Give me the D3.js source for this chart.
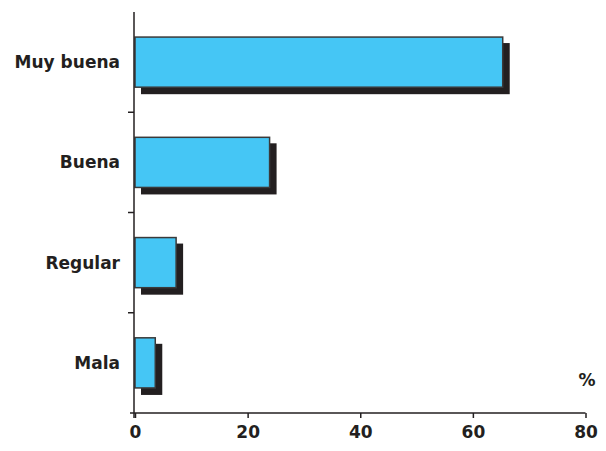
<!DOCTYPE html>
<html>
<head>
<meta charset="utf-8">
<script src="https://cdn.jsdelivr.net/npm/d3@7"></script>
<style>
  html, body { margin: 0; padding: 0; background: #fff; }
  svg { display: block; }
</style>
</head>
<body>
<div id="chart"></div>
<script>
// Survey ratings, share of respondents (%)
const categories = ["Muy buena", "Buena", "Regular", "Mala"];
const values = [65.3, 23.9, 7.3, 3.6];
const xTicks = [0, 20, 40, 60, 80];
const unitLabel = "%";

const W = 606, H = 451;
const margin = { top: 12, right: 20, bottom: 38, left: 135 };

const svg = d3.select("#chart").append("svg")
  .attr("width", W).attr("height", H);

const x = d3.scaleLinear().domain([0, 80]).range([margin.left, 585.5]);
const y = d3.scaleBand().domain(categories).range([margin.top, 413]).paddingInner(0.5).paddingOuter(0.25);
const yEdges = d3.scaleBand().domain(categories).range([margin.top, 413]);

const ink = "#231f20";
const shadowOff = 6;
const font = "DejaVu Sans, Verdana, sans-serif";

// drop shadows behind the bars
svg.append("g").selectAll("rect").data(categories).join("rect")
  .attr("x", x(0) + shadowOff)
  .attr("y", d => y(d) + shadowOff)
  .attr("width", (d, i) => x(values[i]) - x(0) + 1)
  .attr("height", y.bandwidth() + 1)
  .attr("fill", ink);

// bars
svg.append("g").selectAll("rect").data(categories).join("rect")
  .attr("x", x(0))
  .attr("y", d => y(d))
  .attr("width", (d, i) => x(values[i]) - x(0))
  .attr("height", y.bandwidth())
  .attr("fill", "#45c6f5")
  .attr("stroke", "#3a3a3a")
  .attr("stroke-width", 1.5);

// y axis line with separator ticks between categories
const yAxis = svg.append("g");
yAxis.append("line")
  .attr("x1", x(0) - 1).attr("x2", x(0) - 1)
  .attr("y1", margin.top).attr("y2", 418)
  .attr("stroke", ink).attr("stroke-width", 1.5);
yAxis.selectAll("line.sep").data(categories.slice(1)).join("line")
  .attr("class", "sep")
  .attr("x1", x(0) - 7).attr("x2", x(0) - 1)
  .attr("y1", d => yEdges(d)).attr("y2", d => yEdges(d))
  .attr("stroke", ink).attr("stroke-width", 1.5);

// category labels
svg.append("g").selectAll("text").data(categories).join("text")
  .attr("x", 120)
  .attr("y", d => y(d) + y.bandwidth() / 2)
  .attr("dy", "0.35em")
  .attr("text-anchor", "end")
  .attr("font-family", font)
  .attr("font-weight", "bold")
  .attr("font-size", 17)
  .attr("fill", ink)
  .text(d => d);

// x axis
const xAxis = svg.append("g")
  .attr("transform", "translate(0,413)")
  .call(d3.axisBottom(x).tickValues(xTicks).tickSize(5).tickPadding(8).tickSizeOuter(0));
xAxis.select(".domain").attr("stroke", ink).attr("stroke-width", 1.5)
  .attr("d", `M${x(0) - 5},0H${x(80)}`);
xAxis.selectAll(".tick line").attr("stroke", ink).attr("stroke-width", 1.5);
xAxis.selectAll(".tick text")
  .attr("font-family", font)
  .attr("font-weight", "bold")
  .attr("font-size", 17)
  .attr("fill", ink);

// unit label
svg.append("text")
  .attr("x", 587).attr("y", 380)
  .attr("dy", "0.35em")
  .attr("text-anchor", "middle")
  .attr("font-family", font)
  .attr("font-weight", "bold")
  .attr("font-size", 17)
  .attr("fill", ink)
  .text(unitLabel);
</script>
</body>
</html>
